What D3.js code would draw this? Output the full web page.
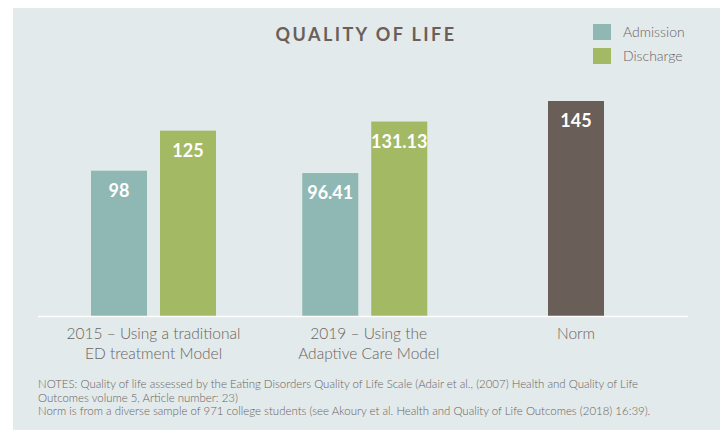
<!DOCTYPE html>
<html>
<head>
<meta charset="utf-8">
<style>
  body { margin: 0; background: #fff; }
  svg { display: block; font-family: Lato, "Noto Sans", sans-serif; }
</style>
</head>
<body>
<svg width="720" height="430"></svg>
<script src="https://cdn.jsdelivr.net/npm/d3@7"></script>
<script>

// data
var groups = ["2015", "2019", "Norm"];
var groupLabels = [["2015 \u2013 Using a traditional", "ED treatment Model"],
                   ["2019 \u2013 Using the", "Adaptive Care Model"],
                   ["Norm"]];
var series = ["Admission", "Discharge"];
var admission = [98, 96.41];
var discharge = [125, 131.13];
var normValue = 145;
var valueLabels = {98: "98", 96.41: "96.41", 125: "125", 131.13: "131.13", 145: "145"};

var notes = [
  "NOTES: Quality of life assessed by the Eating Disorders Quality of Life Scale (Adair et al., (2007) Health and Quality of Life",
  "Outcomes volume 5, Article number: 23)",
  "Norm is from a diverse sample of 971 college students (see Akoury et al. Health and Quality of Life Outcomes (2018) 16:39)."
];

var colors = {Admission: "#8fb8b4", Discharge: "#a3b964", Norm: "#6a5f58"};
var textColor = "#6b6360";

var svg = d3.select("svg");

// panel
svg.append("rect")
    .attr("x", 13).attr("y", 8)
    .attr("width", 720 - 13).attr("height", 430 - 8)
    .attr("fill", "#e2eaeb");

var x = d3.scalePoint()
    .domain(groups)
    .range([153.5, 576]);

var xInner = d3.scaleBand()
    .domain(series)
    .range([-62.5, 62.5])
    .paddingInner(0.1884);

var y = d3.scaleLinear()
    .domain([0, normValue])
    .range([316, 101]);

var bars = [];
groups.forEach(function(g, i) {
  if (g === "Norm") {
    bars.push({group: g, key: "Norm", value: normValue});
  } else {
    bars.push({group: g, key: "Admission", value: admission[i]});
    bars.push({group: g, key: "Discharge", value: discharge[i]});
  }
});

function barX(d) {
  if (d.key === "Norm") return x(d.group) - xInner.bandwidth() / 2;
  return x(d.group) + xInner(d.key);
}

var g = svg.append("g");

g.selectAll("rect.bar")
    .data(bars)
  .enter().append("rect")
    .attr("class", "bar")
    .attr("x", barX)
    .attr("y", function(d) { return y(d.value); })
    .attr("width", xInner.bandwidth())
    .attr("height", function(d) { return y(0) - y(d.value); })
    .attr("fill", function(d) { return colors[d.key]; });

g.selectAll("text.val")
    .data(bars)
  .enter().append("text")
    .attr("class", "val")
    .attr("x", function(d) { return barX(d) + xInner.bandwidth() / 2; })
    .attr("y", function(d) { return y(d.value) + 26; })
    .attr("text-anchor", "middle")
    .attr("fill", "#fff")
    .attr("font-weight", "bold")
    .attr("font-size", 18)
    .text(function(d) { return valueLabels[d.value]; });

// baseline
g.append("line")
    .attr("x1", 38).attr("x2", 688)
    .attr("y1", y(0) + 0.5).attr("y2", y(0) + 0.5)
    .attr("stroke", "#fff")
    .attr("stroke-width", 1.5);

// category labels
var cat = g.selectAll("text.cat")
    .data(groups)
  .enter().append("text")
    .attr("class", "cat")
    .attr("text-anchor", "middle")
    .attr("fill", textColor)
    .attr("font-weight", 300)
    .attr("font-size", 15.5);

cat.each(function(d, i) {
  var t = d3.select(this);
  var cx = i === 1 ? x(d) + 4 : x(d);
  groupLabels[i].forEach(function(line, j) {
    t.append("tspan")
        .attr("x", cx)
        .attr("y", 339 + j * 20)
        .text(line);
  });
});

// title
svg.append("text")
    .attr("x", 366)
    .attr("y", 41)
    .attr("text-anchor", "middle")
    .attr("fill", "#6b5f58")
    .attr("font-weight", "bold")
    .attr("font-size", 18)
    .attr("letter-spacing", 2.4)
    .text("QUALITY OF LIFE");

// legend
var legend = svg.selectAll("g.legend")
    .data(series)
  .enter().append("g")
    .attr("class", "legend")
    .attr("transform", function(d, i) { return "translate(593," + (24 + i * 24) + ")"; });

legend.append("rect")
    .attr("width", 18).attr("height", 16)
    .attr("fill", function(d) { return colors[d]; });

legend.append("text")
    .attr("x", 30).attr("y", 13)
    .attr("fill", textColor)
    .attr("font-weight", 300)
    .attr("font-size", 14)
    .text(function(d) { return d; });

// notes
svg.selectAll("text.note")
    .data(notes)
  .enter().append("text")
    .attr("class", "note")
    .attr("x", 38)
    .attr("y", function(d, i) { return 388 + i * 13.5; })
    .attr("fill", textColor)
    .attr("font-weight", 300)
    .attr("font-size", 11.45)
    .text(function(d) { return d; });

</script>
</body>
</html>
